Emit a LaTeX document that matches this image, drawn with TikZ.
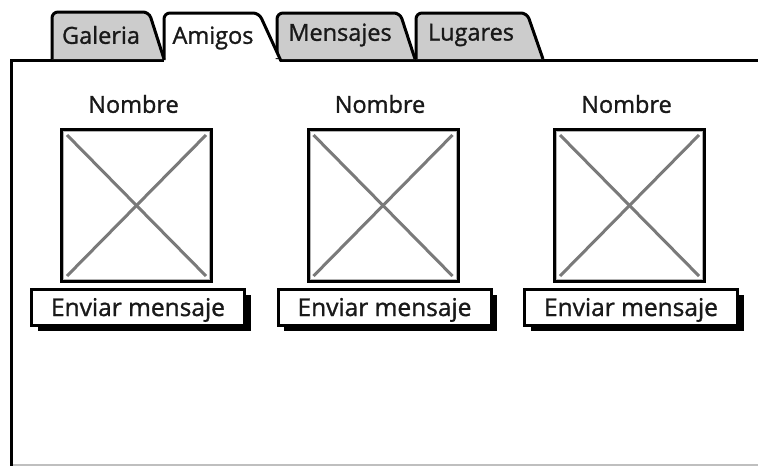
\documentclass[tikz,border=0pt]{standalone}
\usepackage{fontspec}
\setmainfont{Open Sans}
\newfontfamily\bqfont[FakeBold=1.2]{Open Sans}
\usetikzlibrary{shadows}
\definecolor{tabgray}{HTML}{CCCCCC}
\definecolor{xgray}{HTML}{7A7A7A}
\begin{document}
\begin{tikzpicture}[x=1pt,y=-1pt,
  frameline/.style={draw=black,line width=3pt},
  tabline/.style={draw=black,line width=3pt,line join=round,rounded corners=6pt},
  tabtxt/.style={font=\bqfont\fontsize{23.5}{27}\selectfont,inner sep=0pt,text=black!90},
  nametxt/.style={font=\bqfont\fontsize{23.5}{27}\selectfont,inner sep=0pt,text=black!90},
  imgbox/.style={draw=black,line width=3pt,fill=white,minimum width=150pt,minimum height=152pt,inner sep=0pt},
  inner/.style={draw=black!30,line width=1pt},
  xline/.style={draw=xgray,line width=3pt},
  btn/.style={draw=black,line width=3pt,fill=white,minimum width=213pt,minimum height=36pt,inner sep=0pt,
    font=\bqfont\fontsize{24.5}{28}\selectfont,text=black!90,text height=18pt,text depth=0pt,
    drop shadow={shadow xshift=6pt,shadow yshift=-6pt,fill=black,opacity=1}}]
\useasboundingbox (0,0) rectangle (758,466);
\fill[white] (0,0) rectangle (758,466);
% frame
\draw[black!25,line width=2pt] (11,464.5) -- (758,464.5);
\draw[frameline] (11.5,466) -- (11.5,60) -- (164,60);
\draw[frameline] (280,60) -- (758,60);
% gray tabs
\draw[tabline,fill=tabgray] (52,59) -- (52,12) -- (149,12) -- (164,59);
\draw[tabline,fill=tabgray] (277,59) -- (277,13) -- (400,13) -- (415,59);
\draw[tabline,fill=tabgray] (416,59) -- (416,13) -- (527,13) -- (543,59);
% active tab
\fill[white] (164,58) -- (164,14) -- (258,14) -- (279.5,58) -- cycle;
\draw[tabline] (164,60) -- (164,13) -- (259,13) -- (281,61);
\node[tabtxt] (tg) at (101,35) {Galeria};
\node[tabtxt] (ta) at (213,38) {Amigos};
\node[tabtxt] (tm) at (340,35) {Mensajes};
\node[tabtxt] (tl) at (471,35) {Lugares};
% cards
\foreach \i/\cx/\bx/\nx in {1/136.5/138/133.5,2/383/384.5/380,3/629.5/631/626.5}{
  \node[nametxt] (name\i) at (\nx,104) {Nombre};
  \node[imgbox] (img\i) at (\cx,205.5) {};
  \draw[inner] ([shift={(3.5,3.5)}]img\i.north west) rectangle ([shift={(-3.5,-3.5)}]img\i.south east);
  \draw[xline] ([shift={(7,7)}]img\i.north west) -- ([shift={(-7,-7)}]img\i.south east);
  \draw[xline] ([shift={(-7,7)}]img\i.north east) -- ([shift={(7,-7)}]img\i.south west);
  \node[btn] (btn\i) at (\bx,307) {Enviar mensaje};
}
\end{tikzpicture}
\end{document}
